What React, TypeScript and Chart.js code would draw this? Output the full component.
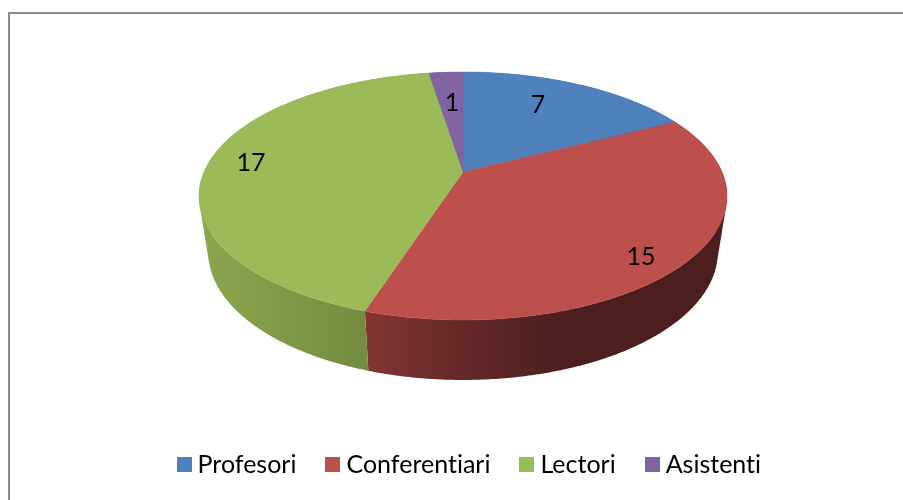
import React, { useEffect, useRef } from "react";
import { Chart, registerables } from "chart.js";

Chart.register(...registerables);

const categories = ["Profesori", "Conferentiari", "Lectori", "Asistenti"];
const values = [7, 15, 17, 1];
const topColors = ["#4f81bd", "#bd4f4c", "#9bbb59", "#8064a2"];
const sideStops = [
  [[0, "#3a5f8c"], [1, "#2b4768"]],
  [[0, "#823634"], [0.27, "#642928"], [0.55, "#4c1f1e"], [1, "#4c1f1e"]],
  [[0, "#8ba64e"], [1, "#6a823b"]],
  [[0, "#5f4a78"], [1, "#4c3b60"]],
];
const labelRadius = [0.72, 0.866, 0.836, 0.663];
const labelShiftDeg = [-4.6, 5.2, 1.3, 0.4];

const FONT = "Lato, Carlito, sans-serif";
const LEGEND_SIZE = 25;
const persp = {
  cx: 463,
  k: 0.1935,
  top: { a: 259, b: 119.35, y0: 172 },
  bottom: { a: 250, b: 123.2, y0: 227.2 },
};

function project(theta: number, r: number, disc: { a: number; b: number; y0: number }) {
  const u = Math.sin(theta) * r;
  const v = Math.cos(theta) * r;
  const d = 1 + persp.k * v;
  return { x: persp.cx + (disc.a * u) / d, y: disc.y0 - (disc.b * v) / d };
}

function swatch(color: string) {
  const c = document.createElement("canvas");
  c.width = 15;
  c.height = 15;
  const g = c.getContext("2d")!;
  g.fillStyle = color;
  g.fillRect(0, 0, 15, 15);
  return c;
}

const pie3d = {
  id: "pie3d",
  beforeDraw(chart: any) {
    const { ctx, width, height } = chart;
    ctx.textRendering = "optimizeSpeed";
    ctx.save();
    ctx.fillStyle = "#ffffff";
    ctx.fillRect(0, 0, width, height);
    ctx.strokeStyle = "#8c8c8c";
    ctx.lineWidth = 2;
    ctx.beginPath();
    ctx.moveTo(9, height);
    ctx.lineTo(9, 13);
    ctx.lineTo(width, 13);
    ctx.stroke();
    ctx.restore();
  },
  beforeDatasetDraw(chart: any) {
    const { ctx } = chart;
    const arcs = chart.getDatasetMeta(0).data;
    const angles = arcs.map((a: any) => {
      const p = a.getProps(["startAngle", "endAngle"], true);
      return { s: p.startAngle + Math.PI / 2, e: p.endAngle + Math.PI / 2 };
    });
    ctx.save();
    angles.forEach(({ s, e }: any, i: number) => {
      const n = Math.max(2, Math.ceil((e - s) / 0.01));
      const tops = [];
      const bots = [];
      for (let j = 0; j <= n; j++) {
        const t = s + ((e - s) * j) / n;
        tops.push(project(t, 1, persp.top));
        bots.push(project(t, 1, persp.bottom));
      }
      const xs = [...tops, ...bots].map((p) => p.x);
      const g = ctx.createLinearGradient(Math.min(...xs), 0, Math.max(...xs), 0);
      sideStops[i].forEach(([o, c]: any) => g.addColorStop(o, c));
      ctx.fillStyle = g;
      // all wall facets in one path, so no seams appear between them
      ctx.beginPath();
      for (let j = 0; j < n; j++) {
        const a = tops[j];
        const b = tops[j + 1];
        const c = bots[j + 1];
        const d = bots[j];
        const cross = (b.x - a.x) * (c.y - a.y) - (b.y - a.y) * (c.x - a.x);
        const q = cross >= 0 ? [a, b, c, d] : [d, c, b, a];
        q.forEach((p, m) => (m ? ctx.lineTo(p.x, p.y) : ctx.moveTo(p.x, p.y)));
        ctx.closePath();
      }
      ctx.fill();
    });
    angles.forEach(({ s, e }: any, i: number) => {
      const n = Math.max(2, Math.ceil((e - s) / 0.01));
      const c = project(0, 0, persp.top);
      ctx.fillStyle = topColors[i];
      ctx.strokeStyle = topColors[i];
      ctx.lineWidth = 0.5;
      ctx.beginPath();
      ctx.moveTo(c.x, c.y);
      for (let j = 0; j <= n; j++) {
        const p = project(s + ((e - s) * j) / n, 1, persp.top);
        ctx.lineTo(p.x, p.y);
      }
      ctx.closePath();
      ctx.fill();
      ctx.stroke();
    });
    ctx.fillStyle = "#000000";
    ctx.font = `25px ${FONT}`;
    ctx.textAlign = "center";
    ctx.textBaseline = "middle";
    angles.forEach(({ s, e }: any, i: number) => {
      const t = (s + e) / 2 + (labelShiftDeg[i] * Math.PI) / 180;
      const p = project(t, labelRadius[i], persp.top);
      ctx.fillText(String(values[i]), p.x, p.y + 1);
    });
    ctx.restore();
    return false;
  },
};

export default function App() {
  const ref = useRef<HTMLCanvasElement>(null);
  useEffect(() => {
    document.body.style.margin = "0";
    const base = (Chart as any).overrides.pie.plugins.legend.labels.generateLabels;
    const chart = new Chart(ref.current!, {
      type: "pie",
      data: {
        labels: categories,
        datasets: [{ data: values, backgroundColor: topColors, borderWidth: 0 }],
      },
      options: {
        responsive: false,
        animation: false,
        layout: { padding: { bottom: 12.7, left: 42 } },
        plugins: {
          tooltip: { enabled: false },
          legend: {
            position: "bottom",
            labels: {
              color: "#000000",
              font: { family: FONT, size: LEGEND_SIZE },
              usePointStyle: true,
              pointStyleWidth: 2,
              boxHeight: LEGEND_SIZE,
              padding: 35.5,
              generateLabels: (c: any) =>
                base(c).map((l: any, i: number) => ({ ...l, pointStyle: swatch(topColors[i]) })),
            },
          },
        },
      },
      plugins: [pie3d],
    } as any);
    return () => chart.destroy();
  }, []);
  return <canvas ref={ref} width={903} height={500} style={{ display: "block" }} />;
}
